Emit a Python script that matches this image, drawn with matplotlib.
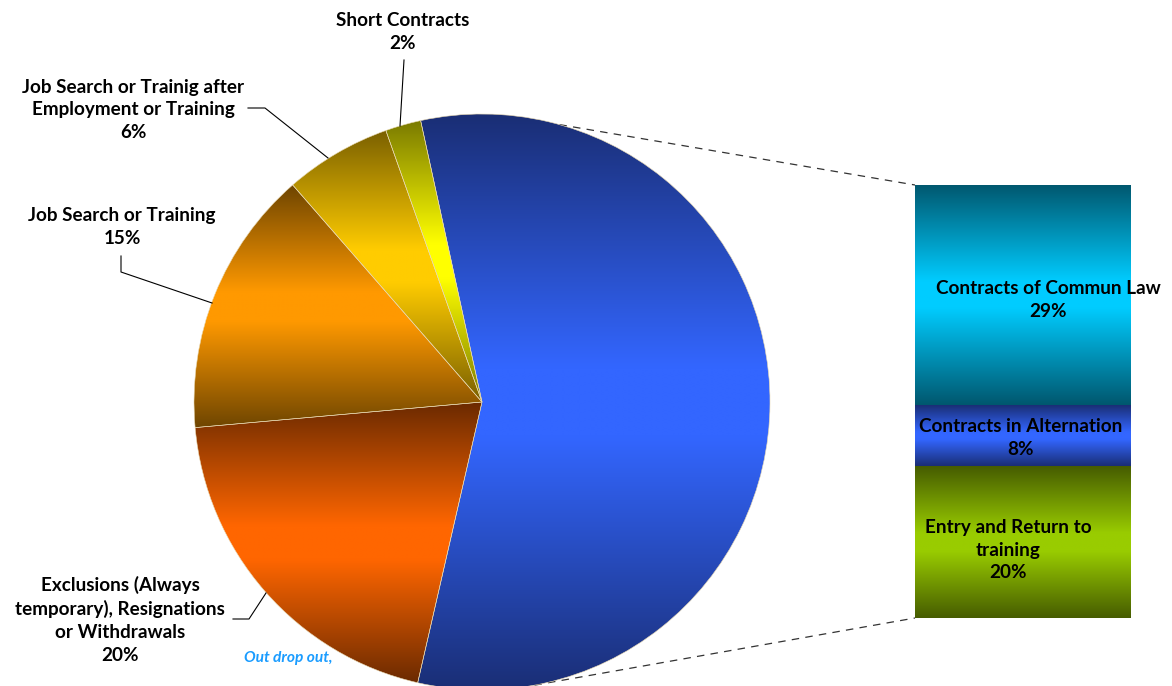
import numpy as np
import matplotlib.pyplot as plt
from matplotlib.colors import LinearSegmentedColormap

plt.rcParams['font.family'] = ['Lato', 'DejaVu Sans']

# pie data (first slice is the one split into the bar)
pie_labels = ["", "Exclusions (Always\ntemporary), Resignations\nor Withdrawals",
              "Job Search or Training",
              "Job Search or Trainig after\nEmployment or Training",
              "Short Contracts"]
pie_values = [57, 20, 15, 6, 2]
pie_dark = ["#1a2e75", "#6b2a00", "#6e4500", "#7a6000", "#7a7a00"]
pie_bright = ["#3366ff", "#ff6600", "#ff9900", "#ffcc00", "#ffff00"]

# bar data, bottom to top
bar_labels = ["Entry and Return to\ntraining", "Contracts in Alternation",
              "Contracts of Commun Law"]
bar_values = [20, 8, 29]
bar_dark = ["#465c00", "#1a2e75", "#00576e"]
bar_bright = ["#99cc00", "#3366ff", "#00ccff"]

W, H = 1172, 686
fig = plt.figure(figsize=(W / 100, H / 100), dpi=100)
ax = fig.add_axes([0, 0, 1, 1])

cx, cy, r = 482, H - 402, 288
grad = np.linspace(0, 1, 256).reshape(-1, 1)


def gradient_fill(axis, patch, dark, bright, bbox):
    cm = LinearSegmentedColormap.from_list(
        "g", [(0, dark), (0.44, bright), (0.56, bright), (1, dark)])
    im = axis.imshow(grad, extent=(bbox.x0, bbox.x1, bbox.y0, bbox.y1),
                     origin="lower", cmap=cm, aspect="auto",
                     interpolation="bilinear", zorder=2)
    im.set_clip_path(patch)


wedges, _ = ax.pie(pie_values, center=(cx, cy), radius=r, startangle=102.3,
                   counterclock=False,
                   wedgeprops=dict(facecolor="none", edgecolor="#e8d8b0",
                                   linewidth=0.4, zorder=3))
for w, d, b in zip(wedges, pie_dark, pie_bright):
    gradient_fill(ax, w, d, b, w.get_path().get_extents(w.get_patch_transform()))

# pie labels (pixel positions from top-left)
txt = dict(fontsize=13.6, fontweight="bold", ha="center", va="center",
           linespacing=1.42, color="black")
label_pos = [None, (120, 620), (122, 227), (133, 110), (403, 32)]
for lab, v, pos in zip(pie_labels, pie_values, label_pos):
    if pos is None:
        continue
    ax.text(pos[0], H - pos[1], f"{lab}\n{v}%", **txt)

leaders = [
    [(404, 60), (400, 126)],
    [(248, 108), (265, 108), (328, 158)],
    [(121, 256), (121, 272), (212, 303)],
    [(233, 619), (249, 619), (266, 593)],
]
for pts in leaders:
    xs, ys = zip(*pts)
    ax.plot(xs, [H - y for y in ys], color="black", lw=0.8, zorder=4)

ax.text(244, H - 658, "Out drop out,", fontsize=11.2, fontweight="bold",
        style="italic", color="#1a9cff", va="center", ha="left")

# bar of pie
bx0, by0, bw, bh = 915, 185, 216, 433
ax2 = fig.add_axes([bx0 / W, (H - by0 - bh) / H, bw / W, bh / H])
bottoms = np.cumsum([0] + bar_values[:-1])
bars = ax2.bar(0, bar_values, bottom=bottoms, width=1, color="none",
               edgecolor="none", zorder=3)
for p, d, b in zip(bars, bar_dark, bar_bright):
    gradient_fill(ax2, p, d, b, p.get_bbox())
ax2.set_xlim(-0.5, 0.5)
ax2.set_ylim(0, sum(bar_values))
ax2.axis("off")

# label nudges: x as axes fraction, y in pixels (down)
bar_xfrac = [0.43, 0.49, 0.616]
bar_ynudge = [8, 2, 5]
px = sum(bar_values) / bh
for lab, v, b0, xf, dy in zip(bar_labels, bar_values, bottoms, bar_xfrac, bar_ynudge):
    ax2.text(xf - 0.5, b0 + v / 2 - dy * px, f"{lab}\n{v}%", clip_on=False, **txt)

# connector lines between the split slice and the bar
a_top, a_bot = np.deg2rad(74.4), np.deg2rad(-79.5)
ax.plot([cx + r * np.cos(a_top), bx0], [cy + r * np.sin(a_top), H - by0],
        color="#333333", lw=0.9, ls=(0, (6, 5)), zorder=1)
ax.plot([cx + r * np.cos(a_bot), bx0], [cy + r * np.sin(a_bot), H - by0 - bh],
        color="#333333", lw=0.9, ls=(0, (6, 5)), zorder=1)

ax.set_xlim(0, W)
ax.set_ylim(0, H)
ax.set_aspect("auto")
ax.axis("off")

fig.savefig("out.png", dpi=100)
